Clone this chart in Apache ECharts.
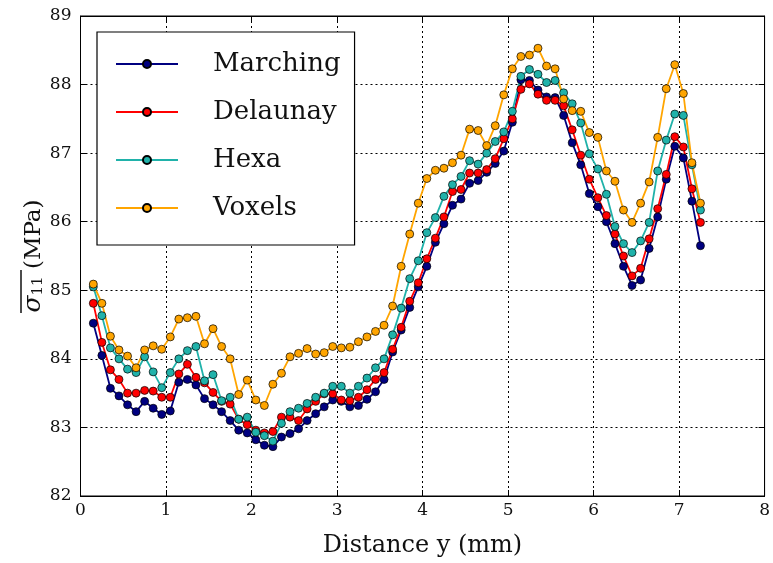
<!DOCTYPE html>
<html>
<head>
<meta charset="utf-8">
<script src="https://cdn.jsdelivr.net/npm/echarts@6/dist/echarts.min.js"></script>
<style>
html,body{margin:0;padding:0;background:#fff;}
#chart{width:773px;height:563px;}
</style>
</head>
<body>
<div id="chart"></div>
<script>
// Distance y (mm)
var distance = [0.15,0.25,0.35,0.45,0.55,0.65,0.75,0.85,0.95,1.05,1.15,1.25,1.35,1.45,1.55,1.65,1.75,1.85,1.95,2.05,
  2.15,2.25,2.35,2.45,2.55,2.65,2.75,2.85,2.95,3.05,3.15,3.25,3.35,3.45,3.55,3.65,3.75,3.85,3.95,4.05,
  4.15,4.25,4.35,4.45,4.55,4.65,4.75,4.85,4.95,5.05,5.15,5.25,5.35,5.45,5.55,5.65,5.75,5.85,5.95,6.05,
  6.15,6.25,6.35,6.45,6.55,6.65,6.75,6.85,6.95,7.05,7.15,7.25];

var marching = [84.52,84.05,83.57,83.46,83.33,83.23,83.38,83.28,83.19,83.24,83.66,83.70,83.62,83.42,83.33,83.23,83.10,82.96,82.92,82.82,
  82.74,82.72,82.86,82.91,82.98,83.10,83.20,83.30,83.40,83.38,83.30,83.32,83.41,83.52,83.70,84.10,84.42,84.75,85.05,85.35,
  85.70,85.97,86.24,86.33,86.56,86.60,86.72,86.85,87.03,87.45,88.07,88.06,87.92,87.82,87.81,87.55,87.15,86.83,86.41,86.22,
  86.00,85.68,85.35,85.07,85.15,85.61,86.07,86.62,87.10,86.93,86.30,85.65];

var delaunay = [84.81,84.24,83.84,83.70,83.50,83.50,83.54,83.53,83.44,83.44,83.78,83.92,83.73,83.65,83.51,83.38,83.34,83.12,83.04,82.96,
  82.92,82.94,83.15,83.15,83.10,83.27,83.38,83.49,83.49,83.40,83.39,83.44,83.55,83.70,83.80,84.14,84.46,84.84,85.11,85.46,
  85.76,86.07,86.44,86.47,86.71,86.71,86.76,86.92,87.21,87.50,87.93,88.01,87.86,87.77,87.77,87.69,87.34,86.97,86.62,86.35,
  86.09,85.82,85.50,85.21,85.32,85.75,86.19,86.69,87.24,87.09,86.48,85.99];

var hexa = [85.05,84.63,84.16,84.00,83.85,83.80,84.03,83.81,83.58,83.80,84.00,84.12,84.18,83.68,83.77,83.39,83.44,83.12,83.15,82.93,
  82.88,82.80,83.06,83.23,83.28,83.35,83.44,83.50,83.60,83.60,83.50,83.60,83.72,83.87,84.00,84.35,84.74,85.17,85.43,85.84,
  86.06,86.37,86.54,86.66,86.89,86.84,87.00,87.17,87.31,87.61,88.12,88.22,88.15,88.03,88.06,87.88,87.72,87.44,86.99,86.77,
  86.40,85.93,85.68,85.55,85.72,85.99,86.74,87.19,87.57,87.55,86.83,86.17];

var voxels = [85.09,84.81,84.33,84.13,84.04,83.87,84.13,84.19,84.14,84.32,84.58,84.60,84.62,84.22,84.44,84.18,84.00,83.48,83.69,83.40,
  83.32,83.63,83.79,84.03,84.08,84.15,84.07,84.09,84.18,84.16,84.17,84.25,84.32,84.40,84.49,84.77,85.35,85.82,86.27,86.63,
  86.75,86.78,86.86,86.97,87.35,87.33,87.11,87.40,87.85,88.23,88.41,88.43,88.53,88.27,88.23,87.79,87.62,87.61,87.30,87.23,
  86.74,86.59,86.17,85.99,86.27,86.58,87.23,87.94,88.29,87.87,86.86,86.27];

var seriesNames = ['Marching','Delaunay','Hexa','Voxels'];
var seriesColors = ['#000080','#ff0000','#20b2aa','#ffa500'];
var seriesValues = [marching, delaunay, hexa, voxels];

var xTicks = [0,1,2,3,4,5,6,7,8];
var yTicks = [82,83,84,85,86,87,88,89];

var FONT = '"DejaVu Serif", "Liberation Serif", serif';

function pairs(vals){
  return vals.map(function(v,i){ return [distance[i], v]; });
}

var chart = echarts.init(document.getElementById('chart'), null, {renderer:'canvas'});

var series = seriesNames.map(function(n, i){
  return {
    name: n,
    type: 'line',
    data: pairs(seriesValues[i]),
    xAxisIndex: 0, yAxisIndex: 0,
    symbol: 'circle',
    symbolSize: 8,
    showAllSymbol: true,
    animation: false,
    lineStyle: {color: seriesColors[i], width: 1.8},
    itemStyle: {color: seriesColors[i], borderColor: '#000', borderWidth: 0.7},
    emphasis: {disabled: true}
  };
});

var option = {
  backgroundColor: '#fff',
  animation: false,
  grid: {left: 80.5, right: 8, top: 16, bottom: 66, show: true, borderColor: '#000', borderWidth: 1, containLabel: false},
  legend: {
    orient: 'vertical',
    left: 97, top: 32,
    width: 258,
    data: seriesNames,
    backgroundColor: '#fff',
    borderColor: '#000',
    borderWidth: 1.2,
    padding: [17, 14, 22, 18],
    itemWidth: 62,
    itemHeight: 10,
    itemGap: 18,
    textStyle: {fontFamily: FONT, fontSize: 26, color: '#111', lineHeight: 30, padding: [0,0,0,30]}
  },
  xAxis: [{
    type: 'value', min: 0, max: 8, interval: 1,
    name: 'Distance y (mm)', nameLocation: 'middle', nameGap: 38,
    nameTextStyle: {fontFamily: FONT, fontSize: 24, color: '#111'},
    axisLine: {show: true, onZero: false, lineStyle: {color: '#000', width: 1}},
    axisTick: {show: true, inside: true, length: 6, lineStyle: {color: '#000'}},
    axisLabel: {fontFamily: FONT, fontSize: 17, color: '#111', margin: 6,
      formatter: function(v){ return xTicks.indexOf(v) >= 0 ? String(v) : ''; }},
    splitLine: {show: true, lineStyle: {color: '#000', width: 1, type: [2, 3]}}
  }, {
    type: 'value', min: 0, max: 8, interval: 1, position: 'top',
    axisLine: {show: true, onZero: false, lineStyle: {color: '#000'}},
    axisTick: {show: true, inside: true, length: 6, lineStyle: {color: '#000'}},
    axisLabel: {show: false}, splitLine: {show: false}
  }],
  yAxis: [{
    type: 'value', min: 82, max: 89, interval: 1,
    name: '{s|σ}{sub|11} {t|(MPa)}', nameLocation: 'middle', nameGap: 35, nameRotate: 90,
    nameMoveOverlap: false,
    nameTextStyle: {fontFamily: FONT, fontSize: 23, color: '#111',
      rich: {
        s: {fontFamily: FONT, fontSize: 25, fontStyle: 'italic', color: '#111', lineHeight: 30, verticalAlign: 'bottom'},
        sub: {fontFamily: FONT, fontSize: 15, color: '#111', lineHeight: 15, verticalAlign: 'bottom'},
        t: {fontFamily: FONT, fontSize: 23, color: '#111', lineHeight: 30, verticalAlign: 'bottom'}
      }},
    axisLine: {show: true, onZero: false, lineStyle: {color: '#000', width: 1}},
    axisTick: {show: true, inside: true, length: 6, lineStyle: {color: '#000'}},
    axisLabel: {fontFamily: FONT, fontSize: 17, color: '#111', margin: 9,
      formatter: function(v){ return yTicks.indexOf(v) >= 0 ? String(v) : ''; }},
    splitLine: {show: true, lineStyle: {color: '#000', width: 1, type: [2, 3]}}
  }, {
    type: 'value', min: 82, max: 89, interval: 1, position: 'right',
    axisLine: {show: true, onZero: false, lineStyle: {color: '#000'}},
    axisTick: {show: true, inside: true, length: 6, lineStyle: {color: '#000'}},
    axisLabel: {show: false}, splitLine: {show: false}
  }],
  series: series,
  graphic: [{
    type: 'line',
    shape: {x1: 21, y1: 270, x2: 21, y2: 313},
    style: {stroke: '#111', lineWidth: 1.5},
    silent: true
  }]
};

chart.setOption(option);
</script>
</body>
</html>
